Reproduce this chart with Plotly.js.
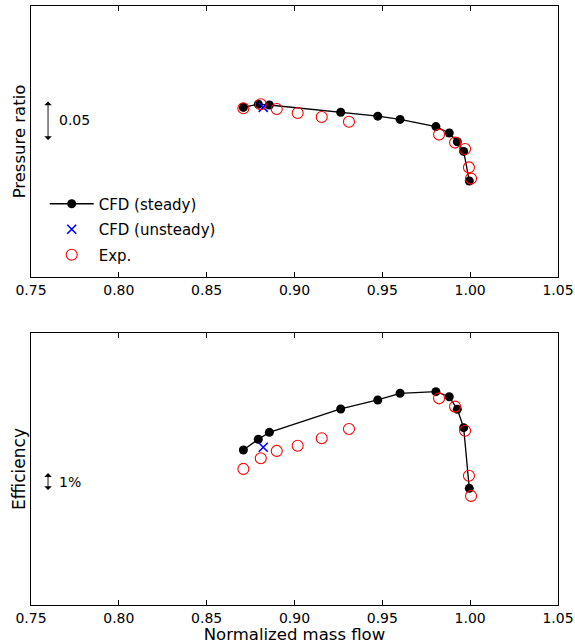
<!DOCTYPE html>
<html>
<head>
<meta charset="utf-8">
<script src="https://cdn.plot.ly/plotly-3.0.1.min.js"></script>
<style>html,body{margin:0;padding:0;background:#fff;}#chart{width:575px;height:644px;}</style>
</head>
<body>
<div id="chart"></div>
<script>
// Normalized mass flow
const cfdSteadyFlow = [0.8709, 0.8794, 0.8857, 0.9263, 0.9474, 0.9601, 0.9805, 0.9881, 0.9927, 0.9963, 0.9995];
const cfdSteadyPR   = [1.412, 1.416, 1.415, 1.406, 1.401, 1.397, 1.388, 1.380, 1.369, 1.357, 1.320];
const cfdSteadyEff  = [83.61, 84.21, 84.59, 85.89, 86.39, 86.76, 86.85, 86.57, 85.87, 84.85, 81.48];

const cfdUnsteadyFlow = [0.8822];
const cfdUnsteadyPR   = [1.412];
const cfdUnsteadyEff  = [83.76];

const expFlow = [0.8709, 0.8808, 0.8899, 0.9018, 0.9155, 0.9310, 0.9823, 0.9914, 0.9971, 0.9993, 1.0005];
const expPR   = [1.411, 1.416, 1.410, 1.405, 1.400, 1.394, 1.378, 1.368, 1.360, 1.337, 1.323];
const expEff  = [82.56, 83.15, 83.56, 83.85, 84.26, 84.78, 86.48, 86.02, 84.68, 82.18, 81.06];

const xTicks = [0.75, 0.80, 0.85, 0.90, 0.95, 1.00, 1.05];
const xTickLabels = ["0.75", "0.80", "0.85", "0.90", "0.95", "1.00", "1.05"];

const FONT = "DejaVu Sans, sans-serif";

const steadyStyle = {mode: "lines+markers", line: {color: "black", width: 1.3}, marker: {color: "black", size: 9, symbol: "circle"}};
const unsteadyStyle = {mode: "markers", marker: {color: "blue", size: 9, symbol: "x-thin-open", line: {color: "blue", width: 1.6}}};
const expStyle = {mode: "markers", marker: {color: "red", size: 11, symbol: "circle-open", line: {color: "red", width: 1.1}}};

const traces = [
  Object.assign({x: cfdSteadyFlow, y: cfdSteadyPR, name: "CFD (steady)", xaxis: "x", yaxis: "y", legendgroup: "a"}, steadyStyle),
  Object.assign({x: cfdUnsteadyFlow, y: cfdUnsteadyPR, name: "CFD (unsteady)", xaxis: "x", yaxis: "y", legendgroup: "b"}, unsteadyStyle),
  Object.assign({x: expFlow, y: expPR, name: "Exp.", xaxis: "x", yaxis: "y", legendgroup: "c"}, expStyle),
  Object.assign({x: cfdSteadyFlow, y: cfdSteadyEff, name: "CFD (steady)", xaxis: "x2", yaxis: "y2", showlegend: false}, steadyStyle),
  Object.assign({x: cfdUnsteadyFlow, y: cfdUnsteadyEff, name: "CFD (unsteady)", xaxis: "x2", yaxis: "y2", showlegend: false}, unsteadyStyle),
  Object.assign({x: expFlow, y: expEff, name: "Exp.", xaxis: "x2", yaxis: "y2", showlegend: false}, expStyle)
];

const xCommon = {
  range: [0.75, 1.05], tickvals: xTicks, ticktext: xTickLabels,
  ticks: "inside", ticklen: 5, tickwidth: 1, tickcolor: "black",
  showline: true, linecolor: "black", linewidth: 1, mirror: "allticks",
  showgrid: false, zeroline: false,
  tickfont: {family: FONT, size: 14, color: "black"}
};
const yCommon = {
  showticklabels: false, ticks: "", showline: true, linecolor: "black", linewidth: 1,
  mirror: true, showgrid: false, zeroline: false
};

const layout = {
  width: 575, height: 644,
  margin: {l: 31, r: 17, t: 6, b: 39},
  paper_bgcolor: "white", plot_bgcolor: "white",
  font: {family: FONT, color: "black"},
  showlegend: true,
  legend: {x: 0.026, y: 0.697, xanchor: "left", yanchor: "top", bgcolor: "rgba(0,0,0,0)",
           font: {family: FONT, size: 15, color: "black"}, traceorder: "grouped", tracegroupgap: 3, itemwidth: 44},
  xaxis: Object.assign({}, xCommon, {anchor: "y", domain: [0, 1]}),
  yaxis: Object.assign({}, yCommon, {anchor: "x", domain: [0.5476, 1], range: [1.20, 1.53875],
          title: {text: "Pressure ratio", font: {family: FONT, size: 16.5}, standoff: 0}}),
  xaxis2: Object.assign({}, xCommon, {anchor: "y2", domain: [0, 1],
          title: {text: "Normalized mass flow", font: {family: FONT, size: 16.5}, standoff: 4}}),
  yaxis2: Object.assign({}, yCommon, {anchor: "x2", domain: [0, 0.4541], range: [75, 90.11],
          title: {text: "Efficiency", font: {family: FONT, size: 17}, standoff: 0}}),
  annotations: [
    {xref: "x", yref: "y", axref: "x", ayref: "y", x: 0.7597, y: 1.3713, ax: 0.7597, ay: 1.4213,
     text: "", showarrow: true, arrowside: "end+start", arrowhead: 1, arrowsize: 1.4, arrowwidth: 0.9, arrowcolor: "black"},
    {xref: "x", yref: "y", x: 0.7648, y: 1.3962, text: "0.05", showarrow: false, xanchor: "left", yanchor: "middle",
     font: {family: FONT, size: 14, color: "black"}},
    {xref: "x2", yref: "y2", axref: "x2", ayref: "y2", x: 0.7597, y: 81.39, ax: 0.7597, ay: 82.41,
     text: "", showarrow: true, arrowside: "end+start", arrowhead: 1, arrowsize: 1.4, arrowwidth: 0.9, arrowcolor: "black"},
    {xref: "x2", yref: "y2", x: 0.7648, y: 81.83, text: "1%", showarrow: false, xanchor: "left", yanchor: "middle",
     font: {family: FONT, size: 14, color: "black"}}
  ]
};

Plotly.newPlot("chart", traces, layout, {displayModeBar: false, staticPlot: true});
</script>
</body>
</html>
